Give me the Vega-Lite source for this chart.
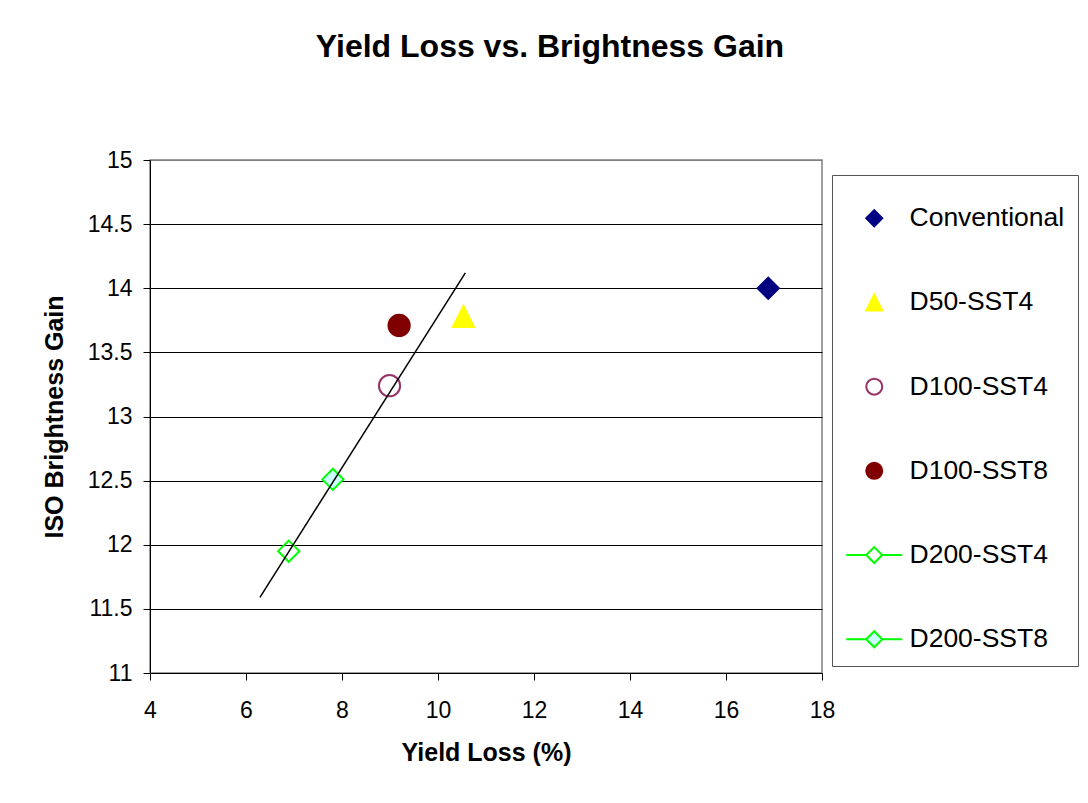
{
  "$schema": "https://vega.github.io/schema/vega-lite/v6.json",
  "width": 672,
  "height": 513,
  "autosize": {"type": "none"},
  "padding": {"left": 150, "top": 160, "right": 266, "bottom": 130},
  "background": "white",
  "title": {
    "text": "Yield Loss vs. Brightness Gain",
    "fontSize": 32,
    "fontWeight": "bold",
    "font": "Liberation Sans",
    "color": "black",
    "anchor": "middle",
    "baseline": "alphabetic",
    "offset": 60,
    "dx": 64
  },
  "config": {
    "font": "Liberation Sans",
    "view": {"stroke": "#808080", "strokeWidth": 1.5}
  },
  "datasets": {
    "points": [
      {"series": "Conventional", "yield_loss": 16.88, "brightness": 14.0},
      {"series": "D50-SST4", "yield_loss": 10.53, "brightness": 13.78},
      {"series": "D100-SST4", "yield_loss": 8.99, "brightness": 13.24},
      {"series": "D100-SST8", "yield_loss": 9.19, "brightness": 13.71},
      {"series": "D200-SST4", "yield_loss": 6.89, "brightness": 11.95},
      {"series": "D200-SST8", "yield_loss": 7.81, "brightness": 12.51}
    ],
    "trend": [
      {"yield_loss": 6.29, "brightness": 11.59},
      {"yield_loss": 10.57, "brightness": 14.12}
    ]
  },
  "resolve": {
    "scale": {"shape": "independent", "fill": "independent", "stroke": "independent"},
    "legend": {"shape": "independent", "fill": "independent", "stroke": "independent"}
  },
  "layer": [
    {
      "data": {"name": "points"},
      "mark": {"type": "point", "strokeWidth": 2, "size": 0, "opacity": 1},
      "encoding": {
        "x": {
          "field": "yield_loss",
          "type": "quantitative",
          "scale": {"domain": [4, 18], "nice": false, "zero": false},
          "axis": {
            "values": [4, 6, 8, 10, 12, 14, 16, 18],
            "title": "Yield Loss (%)",
            "titleFontSize": 25,
            "titleFontWeight": "bold",
            "titleColor": "black",
            "titleBaseline": "alphabetic",
            "titleY": 87,
            "labelFontSize": 23,
            "labelColor": "black",
            "labelBaseline": "alphabetic",
            "labelPadding": 37,
            "labelFlush": false,
            "tickSize": 7,
            "tickColor": "black",
            "domainColor": "black",
            "grid": false
          }
        },
        "y": {
          "field": "brightness",
          "type": "quantitative",
          "scale": {"domain": [11, 15], "nice": false, "zero": false},
          "axis": {
            "values": [11, 11.5, 12, 12.5, 13, 13.5, 14, 14.5, 15],
            "format": "~g",
            "title": "ISO Brightness Gain",
            "titleFontSize": 25,
            "titleFontWeight": "bold",
            "titleColor": "black",
            "titleAngle": -90,
            "titleBaseline": "alphabetic",
            "titleX": -88,
            "titleY": 256.5,
            "labelFontSize": 23,
            "labelColor": "black",
            "labelPadding": 11,
            "labelFlush": false,
            "tickSize": 7,
            "tickColor": "black",
            "domainColor": "black",
            "grid": true,
            "gridColor": {"condition": {"test": "datum.value === 15 || datum.value === 11", "value": "#808080"}, "value": "black"},
            "gridWidth": 1
          }
        },
        "shape": {
          "field": "series",
          "type": "nominal",
          "scale": {
            "domain": ["Conventional", "D50-SST4", "D100-SST4", "D100-SST8", "D200-SST4", "D200-SST8"],
            "range": ["diamond", "M0,-1L1,1L-1,1Z", "circle", "circle", "M-3.5,0L-1,0M1,0L3.5,0M-1,0L0,-1L1,0L0,1Z", "M-3.5,0L-1,0M1,0L3.5,0M-1,0L0,-1L1,0L0,1Z"]
          },
          "legend": {
            "orient": "none",
            "legendX": 682,
            "legendY": 15,
            "title": " ",
            "titleFontSize": 14,
            "titlePadding": 3,
            "padding": 13,
            "strokeColor": "#555555",
            "fillColor": "white",
            "labelFontSize": 26.5,
            "labelColor": "black",
            "labelLimit": 400,
            "symbolSize": 256,
            "symbolStrokeWidth": 2,
            "symbolOffset": 16,
            "labelOffset": 22,
            "rowPadding": 57.2
          }
        },
        "fill": {
          "field": "series",
          "type": "nominal",
          "scale": {
            "domain": ["Conventional", "D50-SST4", "D100-SST4", "D100-SST8", "D200-SST4", "D200-SST8"],
            "range": ["#000080", "#FFFF00", "white", "#800000", "white", "#CCFFFF"]
          }
        },
        "stroke": {
          "field": "series",
          "type": "nominal",
          "scale": {
            "domain": ["Conventional", "D50-SST4", "D100-SST4", "D100-SST8", "D200-SST4", "D200-SST8"],
            "range": ["#000080", "#FFFF00", "#993366", "#800000", "#00FF00", "#00FF00"]
          }
        }
      }
    },
    {
      "data": {"name": "points"},
      "mark": {"type": "point", "strokeWidth": 2, "size": 450, "opacity": 1},
      "encoding": {
        "x": {"field": "yield_loss", "type": "quantitative"},
        "y": {"field": "brightness", "type": "quantitative"},
        "shape": {
          "field": "series",
          "type": "nominal",
          "scale": {
            "domain": ["Conventional", "D50-SST4", "D100-SST4", "D100-SST8", "D200-SST4", "D200-SST8"],
            "range": ["diamond", "M0,-1L1,1L-1,1Z", "circle", "circle", "diamond", "diamond"]
          },
          "legend": null
        },
        "fill": {
          "field": "series",
          "type": "nominal",
          "scale": {
            "domain": ["Conventional", "D50-SST4", "D100-SST4", "D100-SST8", "D200-SST4", "D200-SST8"],
            "range": ["#000080", "#FFFF00", "transparent", "#800000", "transparent", "#CCFFFF"]
          },
          "legend": null
        },
        "stroke": {
          "field": "series",
          "type": "nominal",
          "scale": {
            "domain": ["Conventional", "D50-SST4", "D100-SST4", "D100-SST8", "D200-SST4", "D200-SST8"],
            "range": ["#000080", "#FFFF00", "#993366", "#800000", "#00FF00", "#00FF00"]
          },
          "legend": null
        }
      }
    },
    {
      "data": {"name": "trend"},
      "mark": {"type": "line", "color": "black", "strokeWidth": 1.5},
      "encoding": {
        "x": {"field": "yield_loss", "type": "quantitative"},
        "y": {"field": "brightness", "type": "quantitative"}
      }
    }
  ]
}
